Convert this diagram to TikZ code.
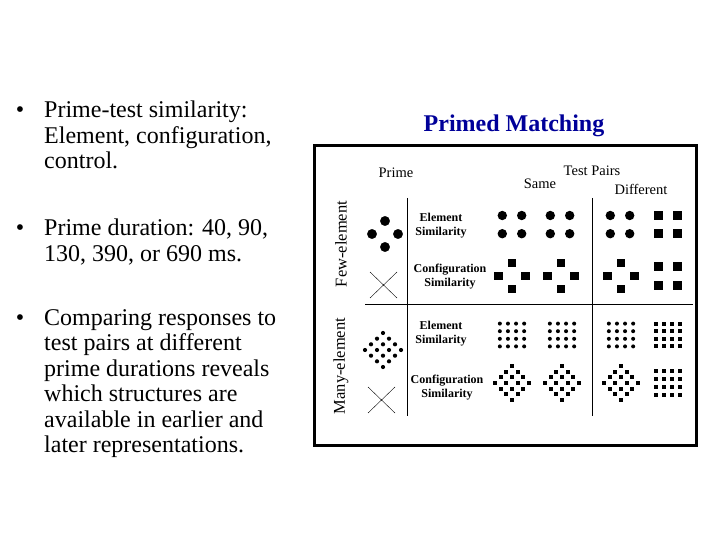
\documentclass[tikz,border=0pt]{standalone}
\usepackage{fontspec}
\setmainfont{Liberation Serif}
\definecolor{titleblue}{RGB}{0,0,153}
\begin{document}
\begin{tikzpicture}[x=1pt, y=-1pt, line join=miter,
  txt/.style={inner sep=0pt, anchor=base west, align=left, font=\fontsize{24}{25.5}\selectfont},
  bul/.style={inner sep=0pt, anchor=base, font=\fontsize{24}{25.5}\selectfont},
  title/.style={inner sep=0pt, anchor=base, text=titleblue, font=\bfseries\fontsize{24}{28}\selectfont},
  head/.style={inner sep=0pt, font=\fontsize{14.5}{16}\selectfont},
  sim/.style={inner sep=0pt, align=center, font=\bfseries\fontsize{12}{14}\selectfont},
  side/.style={inner sep=0pt, rotate=90, font=\fontsize{16.5}{18}\selectfont},
  frame/.style={line width=3pt},
  rule/.style={line width=1pt}]
	\useasboundingbox (0,0) rectangle (720,540);
	\node[bul] (b1) at (20,118) {•};
	\node[txt] (t1) at (44,169) {Prime-test similarity:\\Element, configuration,\\control.};
	\node[bul] (b2) at (20,236) {•};
	\node[txt] (t2) at (44,261.5) {Prime duration: 40, 90,\\130, 390, or 690 ms.};
	\node[bul] (b3) at (20,325) {•};
	\node[txt] (t3) at (44,452.5) {Comparing responses to\\test pairs at different\\prime durations reveals\\which structures are\\available in earlier and\\later representations.};
	\node[title] (pm) at (514,132) {Primed Matching};
	\draw[frame] (314,146) rectangle (696,445);
	\draw[rule] (407,198) -- (407,416) (592,198) -- (592,416) (365,304) -- (693,304);
	\node[head] (prime) at (396,173) {Prime};
	\node[head] (tp) at (592,171) {Test Pairs};
	\node[head] (same) at (540,184) {Same};
	\node[head] (diff) at (641,189) {Different};
	\node[side] (few) at (341,244) {Few-element};
	\node[side] (many) at (341,366) {Many-element};
	\node[sim] (es1) at (441,226) {Element\\Similarity};
	\node[sim] (cs1) at (450,277) {Configuration\\Similarity};
	\node[sim] (es2) at (441,334) {Element\\Similarity};
	\node[sim] (cs2) at (447,388) {Configuration\\Similarity};
	\filldraw (385,221) circle (4.7) (372,234) circle (4.7) (398,234) circle (4.7) (385,247) circle (4.7);
	\draw (370,272) -- (397,298) (370,298) -- (397,272);
	\draw (368,387) -- (395,413) (368,413) -- (395,387);
	\foreach \i in {0,...,3}
		\foreach \j in {0,...,3}
			\fill ({383+(\i-\j)*6},{350+(\i+\j-3)*5.67}) circle (2.1);
	\foreach \c in {512,560,620}
		\foreach \dx in {-9.7,9.7}
			\foreach \dy in {-9.1,9.1}
				\fill ({\c+\dx},{224.6+\dy}) circle (4.7);
	\foreach \dx in {-9.5,9.5}
		\foreach \dy in {-9.2,9.2}
			\fill ({668+\dx-4.5},{224.6+\dy-4.5}) rectangle ++(9,9);
	\foreach \c in {512,561,621}
		\foreach \dx/\dy in {0/-13,-13.3/0,13.3/0,0/13}
			\fill ({\c+\dx-4.4},{276+\dy-4.4}) rectangle ++(8.8,8.8);
	\foreach \dx in {-9.7,9.7}
		\foreach \dy in {-9.3,9.3}
			\fill ({668+\dx-4.4},{276+\dy-4.4}) rectangle ++(8.8,8.8);
	\foreach \c in {512,562,621}
		\foreach \i in {0,...,3}
			\foreach \j in {0,...,3}
				\fill ({\c+(\i-1.5)*8.1},{335+(\j-1.5)*7.6}) circle (2);
	\foreach \i in {0,...,3}
		\foreach \j in {0,...,3}
			\fill ({668+(\i-1.5)*8.1-2},{335+(\j-1.5)*7.6-2}) rectangle ++(4,4);
	\foreach \c in {512,562,621}
		\foreach \i in {0,...,3}
			\foreach \j in {0,...,3}
				\fill ({\c+(\i-\j)*5.7-2},{383+(\i+\j-3)*5.6-2}) rectangle ++(4,4);
	\foreach \i in {0,...,3}
		\foreach \j in {0,...,3}
			\fill ({668+(\i-1.5)*8.1-2},{383+(\j-1.5)*7.8-2}) rectangle ++(4,4);
\end{tikzpicture}
\end{document}
